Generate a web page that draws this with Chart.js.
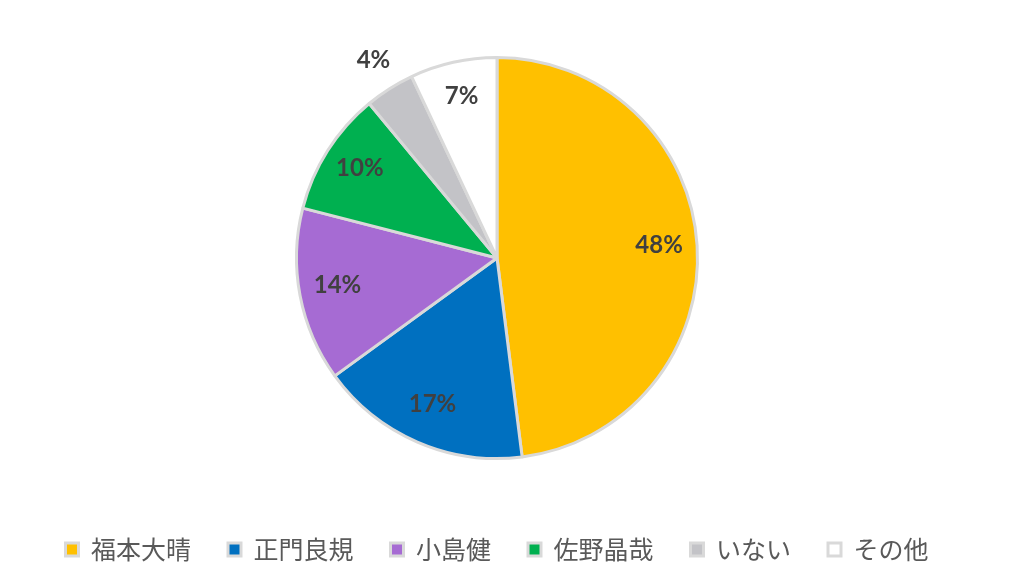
<!DOCTYPE html>
<html>
<head>
<meta charset="utf-8">
<script src="https://cdn.jsdelivr.net/npm/chart.js@4/dist/chart.umd.min.js"></script>
<style>
  html, body { margin: 0; padding: 0; background: #fff; }
  #wrap { width: 1024px; height: 588px; }
</style>
</head>
<body>
<div id="wrap"><canvas id="pieChart" width="1024" height="588"></canvas></div>
<script>
// data
const names = ['福本大晴', '正門良規', '小島健', '佐野晶哉', 'いない', 'その他'];
const shares = [48, 17, 14, 10, 4, 7];
const sliceColors = ['#ffc000', '#0070c0', '#a66bd3', '#00b050', '#c3c3c7', '#ffffff'];
// labels that sit outside the slice (too thin inside)
const outsideLabels = [false, false, false, false, true, false];

// percentage text on each slice
const sliceLabels = {
    id: 'sliceLabels',
    afterDatasetsDraw(chart) {
        const ctx = chart.ctx;
        const meta = chart.getDatasetMeta(0);
        ctx.save();
        ctx.font = 'bold 24px Lato, "Open Sans", sans-serif';
        ctx.fillStyle = '#404040';
        ctx.textAlign = 'center';
        ctx.textBaseline = 'middle';
        meta.data.forEach((arc, i) => {
            const p = arc.getProps(['x', 'y', 'startAngle', 'endAngle', 'outerRadius'], true);
            const mid = (p.startAngle + p.endAngle) / 2;
            const r = p.outerRadius * (outsideLabels[i] ? 1.15 : 0.81);
            ctx.fillText(shares[i] + '%', p.x + Math.cos(mid) * r, p.y + Math.sin(mid) * r - 3);
        });
        ctx.restore();
    }
};

const ctxPie = document.getElementById('pieChart').getContext('2d');
new Chart(ctxPie, {
    type: 'pie',
    data: {
        labels: names,
        datasets: [{
            data: shares,
            backgroundColor: sliceColors,
            borderColor: '#d9d9d9',
            borderWidth: 3
        }]
    },
    options: {
        responsive: false,
        animation: false,
        layout: { padding: { top: 56, bottom: 16, left: 0, right: 30 } },
        plugins: {
            tooltip: { enabled: false },
            legend: {
                position: 'bottom',
                title: {
                    display: true,
                    text: '',
                    font: { size: 10, lineHeight: 1 },
                    padding: { top: 30, bottom: 0 }
                },
                labels: {
                    boxWidth: 13,
                    boxHeight: 13,
                    padding: 37,
                    color: '#595959',
                    font: { size: 25, family: '"Noto Sans CJK JP", sans-serif' }
                }
            }
        }
    },
    plugins: [sliceLabels]
});
</script>
</body>
</html>
